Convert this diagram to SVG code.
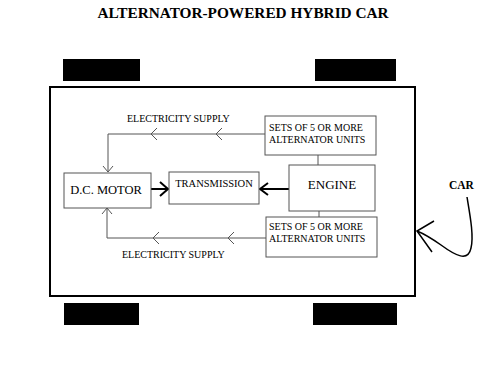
<svg xmlns="http://www.w3.org/2000/svg" width="500" height="375" viewBox="0 0 500 375">
<style>
text{font-family:"Liberation Serif","Times New Roman",serif;fill:#000}
.box{fill:#fff;stroke:#555;stroke-width:1}
.wheel{fill:#000}
.thin{fill:none;stroke:#555;stroke-width:1}
.thick{fill:none;stroke:#000;stroke-width:2}
.s{font-size:10px}
</style>
<rect width="500" height="375" fill="#fff"/>
<text x="243" y="18" font-size="15.3" font-weight="bold" text-anchor="middle">ALTERNATOR-POWERED HYBRID CAR</text>
<g id="wheels">
<rect class="wheel" x="63" y="59" width="77" height="22"/>
<rect class="wheel" x="315" y="59" width="81" height="22"/>
<rect class="wheel" x="64" y="303" width="75" height="22"/>
<rect class="wheel" x="313" y="303" width="84" height="22"/>
</g>
<g id="car-body"><rect x="50" y="87" width="365" height="209" fill="none" stroke="#000" stroke-width="2"/></g>
<g id="connectors">
<polyline class="thin" points="265,134 108,134 108,172"/>
<polyline class="thin" points="157,128 151,134 157,140"/>
<polyline class="thin" points="222,128 216,134 222,140"/>
<polyline class="thin" points="103,166 108,172 113,166"/>
<polyline class="thin" points="266,238 107,238 107,208"/>
<polyline class="thin" points="159,232 153,238 159,244"/>
<polyline class="thin" points="234,232 228,238 234,244"/>
<polyline class="thin" points="102,214 107,208 112,214"/>
<line class="thin" x1="318" y1="155" x2="318" y2="165" stroke="#000"/>
<line class="thin" x1="319" y1="211" x2="319" y2="217" stroke="#000"/>
<line class="thick" x1="151" y1="189" x2="168" y2="189"/>
<polyline class="thick" points="160,182 168,189 160,196"/>
<line class="thick" x1="289" y1="189" x2="260" y2="189"/>
<polyline class="thick" points="268,183 260,189 268,195"/>
<path d="M467,197 C470,215 474,236 471,248 C468,262 456,256 441,245 C431,238 422,233 417,231" fill="none" stroke="#000" stroke-width="1.5"/>
<polyline points="434,221 417,231 432,252" fill="none" stroke="#000" stroke-width="1.5"/>
</g>
<g id="dc-motor"><rect class="box" x="64" y="173" width="87" height="35"/><text x="106" y="194" font-size="12.5" text-anchor="middle">D.C. MOTOR</text></g>
<g id="transmission"><rect class="box" x="169" y="172" width="90" height="32"/><text x="214" y="187" font-size="10.5" text-anchor="middle">TRANSMISSION</text></g>
<g id="engine"><rect class="box" x="289" y="165" width="86" height="46" stroke="#888"/><text x="332" y="189" font-size="13" text-anchor="middle">ENGINE</text></g>
<g id="alt-top"><rect class="box" x="265" y="116" width="111" height="39"/><text class="s" x="269" y="131">SETS OF 5 OR MORE</text><text class="s" x="269" y="143">ALTERNATOR UNITS</text></g>
<g id="alt-bottom"><rect class="box" x="266" y="217" width="111" height="40"/><text class="s" x="269" y="230">SETS OF 5 OR MORE</text><text class="s" x="269" y="242">ALTERNATOR UNITS</text></g>
<g id="labels">
<text class="s" x="127" y="122">ELECTRICITY SUPPLY</text>
<text class="s" x="122" y="258">ELECTRICITY SUPPLY</text>
<text x="449" y="189" font-size="11.5" font-weight="bold">CAR</text>
</g>
</svg>
